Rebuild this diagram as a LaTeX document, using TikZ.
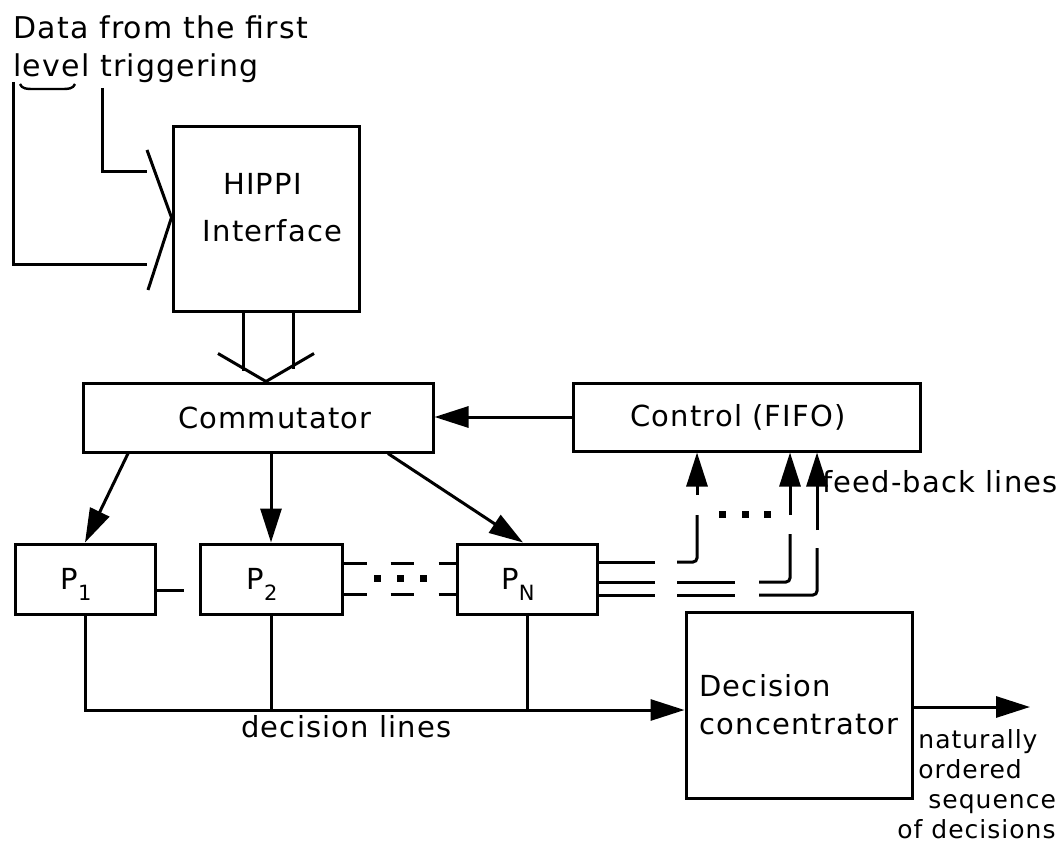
\documentclass[tikz,border=0pt]{standalone}
\usepackage{fontspec}
\setmainfont{DejaVu Sans}[LetterSpace=4]
\usetikzlibrary{arrows.meta,calc}
\newcommand\mf{\fontsize{14.5}{19}\selectfont}
\newcommand\plab[1]{P\raisebox{-5.5pt}[0pt][0pt]{\fontsize{10.5}{10.5}\selectfont #1}\hspace*{9pt}}
\begin{document}
\begin{tikzpicture}[x=0.5pt,y=-0.5pt,
  every node/.style={inner sep=0pt},
  box/.style={draw, line width=1.5pt, rectangle, font=\mf},
  conn/.style={line width=1.5pt},
  arr/.style={conn, -{Triangle[length=17pt,width=10.5pt]}},
  txt/.style={font=\mf}]
\useasboundingbox (0,0) rectangle (1064,855);

% boxes
\node[box, minimum width=93pt, minimum height=92.5pt] (hippi) at (266,219.5) {};
\node[txt, anchor=base] (hippiA) at (262.5,195) {HIPPI};
\node[txt, anchor=base] (hippiB) at (272.5,242) {Interface};
\node[box, minimum width=175pt, minimum height=34.5pt] (comm) at (258,417.5) {\hspace*{17pt}Commutator};
\node[box, minimum width=173.5pt, minimum height=34pt] (ctrl) at (746.5,417) {Control (FIFO)\hspace*{8.5pt}};
\node[box, minimum width=70pt, minimum height=35pt] (p1) at (85,579) {\plab{1}};
\node[box, minimum width=71pt, minimum height=35pt] (p2) at (271,579) {\plab{2}};
\node[box, minimum width=70pt, minimum height=35pt] (pN) at (527,579) {\plab{N}};
\node[box, minimum width=113pt, minimum height=93pt, align=left] (dec) at (799,705) {Decision\\concentrator};

% texts
\node[anchor=north west, align=left, font=\fontsize{15}{19}\selectfont] (src) at (13,15) {Data from the first\\level triggering};
\draw[line width=1.2pt] (20,84) to[out=-70,in=180] (32,89) -- (63,89) to[out=0,in=-110] (75,84);
\node[txt, anchor=base west] (dlines) at (241,737) {decision lines};
\node[txt, anchor=base west] (fb) at (822,492) {feed-back lines};
\node[anchor=north west, align=left, font=\fontsize{12.5}{15}\selectfont] (nat) at (918,729)
  {naturally\\ordered\\\hspace*{5pt}sequence\\\hspace*{-10.5pt}of decisions};

% input lines into HIPPI
\coordinate (v) at ($(hippi.west)+(0,-2)$);
\coordinate (inA) at (13,82);
\coordinate (inAe) at (147,265);
\coordinate (inB) at (102,88);
\coordinate (inBe) at (147,172);
\coordinate (vt) at (147,150);
\coordinate (vb) at (148,290);
\draw[conn] (inA) |- (inAe);
\draw[conn] (inB) |- (inBe);
\draw[conn] (vt) -- (v) -- (vb);

% double arrow HIPPI -> Commutator
\coordinate (tip) at (comm.north -| hippi.south);
\draw[conn] ($(hippi.south)+(-23,0)$) -- ($(hippi.south)+(-23,57.6)$);
\draw[conn] ($(hippi.south)+(27,0)$) -- ($(hippi.south)+(27,55.3)$);
\draw[conn] ($(tip)+(-48,-28)$) -- (tip) -- ($(tip)+(48,-28)$);

% control -> commutator
\draw[arr] (ctrl.west) -- (ctrl.west -| comm.east);

% commutator -> processors
\draw[arr] ($(comm.south)+(-130,0)$) -- (p1.north);
\draw[arr] (comm.south -| p2.north) -- (p2.north);
\draw[arr] ($(comm.south)+(130,0)$) -- ($(pN.north)+(-4,0)$);

% links between processors
\draw[conn] ($(p1.east)+(0,11)$) -- ++(27,0);
\draw[conn, dash pattern=on 11.5pt off 12pt on 11.5pt off 12.5pt on 10pt off 10pt] ($(p2.east)+(0,-16)$) -- ($(pN.west)+(0,-16)$);
\draw[conn, dash pattern=on 11.5pt off 12pt on 11.5pt off 12.5pt on 10pt off 10pt] ($(p2.east)+(0,15)$) -- ($(pN.west)+(0,15)$);
\foreach \x in {377,400,423} \fill (\x-3.5,574.5) rectangle ++(7,7);

% feed-back lines
\draw[conn] ($(pN.east)+(0,-17)$) -- ++(56,0);
\draw[conn, rounded corners=2pt] (677,562) -| (697,515);
\draw[arr] (697,495) -- ($(ctrl.south)+(-49.5,0)$);
\draw[conn] ($(pN.east)+(0,3)$) -- ++(56,0);
\draw[conn] (677,582) -- (735,582);
\draw[conn, rounded corners=2pt] (759,582) -| (790,534);
\draw[arr] (790,515) -- ($(ctrl.south)+(43.5,0)$);
\draw[conn] ($(pN.east)+(0,16)$) -- ++(56,0);
\draw[conn] (677,595) -- (735,595);
\draw[conn, rounded corners=2pt] (759,595) -| (817,548);
\draw[arr] (817,530) -- ($(ctrl.south)+(70.5,0)$);
\foreach \x in {722,745,767} \fill (\x-3.5,510.5) rectangle ++(7,7);

% decision lines
\coordinate (dl) at ($(dec.west)+(0,5)$);
\draw[arr] (p1.south) |- (dl);
\draw[conn] (p2.south) -- (p2.south |- dl);
\draw[conn] (pN.south) -- (pN.south |- dl);

% output
\coordinate (outend) at (1030,707);
\draw[arr] (dec.east |- outend) -- (outend);
\end{tikzpicture}
\end{document}
